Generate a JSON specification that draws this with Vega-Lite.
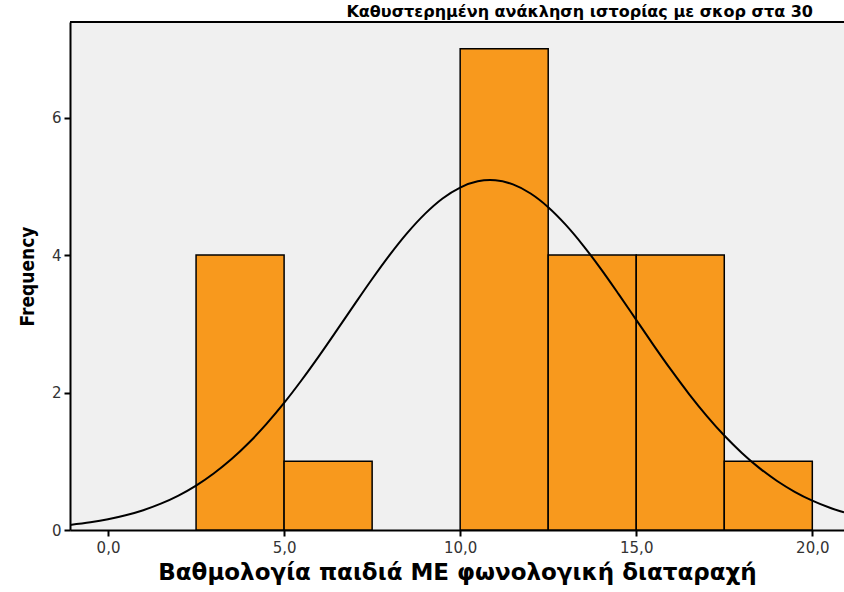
{
  "$schema": "https://vega.github.io/schema/vega-lite/v6.json",
  "autosize": "none",
  "width": 774,
  "height": 508,
  "padding": {"left": 70, "top": 22, "right": 0, "bottom": 62},
  "background": "white",
  "config": {
    "view": {"stroke": null, "fill": "#f0f0f0"},
    "font": "Liberation Sans"
  },
  "title": {
    "text": "Καθυστερημένη ανάκληση ιστορίας με σκορ στα 30",
    "anchor": "end",
    "dx": -32,
    "offset": 1,
    "fontSize": 16,
    "fontWeight": "bold",
    "font": "DejaVu Sans",
    "color": "black"
  },
  "datasets": {
    "bins": [
      {"start": 2.5, "end": 5, "count": 4},
      {"start": 5, "end": 7.5, "count": 1},
      {"start": 10, "end": 12.5, "count": 7},
      {"start": 12.5, "end": 15, "count": 4},
      {"start": 15, "end": 17.5, "count": 4},
      {"start": 17.5, "end": 20, "count": 1}
    ],
    "curve": [
      {"x": -1.08, "y": 0.074}, {"x": -0.5, "y": 0.112}, {"x": 0, "y": 0.156}, {"x": 0.5, "y": 0.214},
      {"x": 1, "y": 0.288}, {"x": 1.5, "y": 0.383}, {"x": 2, "y": 0.501}, {"x": 2.5, "y": 0.646},
      {"x": 3, "y": 0.822}, {"x": 3.5, "y": 1.028}, {"x": 4, "y": 1.269}, {"x": 4.5, "y": 1.543},
      {"x": 5, "y": 1.848}, {"x": 5.5, "y": 2.182}, {"x": 6, "y": 2.537}, {"x": 6.5, "y": 2.907},
      {"x": 7, "y": 3.282}, {"x": 7.5, "y": 3.651}, {"x": 8, "y": 4.002}, {"x": 8.5, "y": 4.322},
      {"x": 9, "y": 4.599}, {"x": 9.5, "y": 4.823}, {"x": 10, "y": 4.982}, {"x": 10.5, "y": 5.072},
      {"x": 10.85, "y": 5.09}, {"x": 11, "y": 5.087}, {"x": 11.5, "y": 5.027}, {"x": 12, "y": 4.895},
      {"x": 12.5, "y": 4.696}, {"x": 13, "y": 4.439}, {"x": 13.5, "y": 4.135}, {"x": 14, "y": 3.795},
      {"x": 14.5, "y": 3.431}, {"x": 15, "y": 3.057}, {"x": 15.5, "y": 2.683}, {"x": 16, "y": 2.321},
      {"x": 16.5, "y": 1.978}, {"x": 17, "y": 1.661}, {"x": 17.5, "y": 1.374}, {"x": 18, "y": 1.121},
      {"x": 18.5, "y": 0.900}, {"x": 19, "y": 0.713}, {"x": 19.5, "y": 0.556}, {"x": 20, "y": 0.427},
      {"x": 20.5, "y": 0.323}, {"x": 20.9, "y": 0.256}
    ]
  },
  "layer": [
    {
      "data": {"name": "bins"},
      "mark": {"type": "rect", "fill": "#f8991d", "stroke": "black", "strokeWidth": 1.5},
      "encoding": {
        "x": {
          "field": "start", "type": "quantitative",
          "scale": {"domain": [-1.08, 20.9], "nice": false, "zero": false},
          "axis": {
            "values": [0, 5, 10, 15, 20],
            "format": ".1f",
            "labelExpr": "replace(datum.label, '.', ',')",
            "title": "Βαθμολογία παιδιά ΜΕ φωνολογική διαταραχή",
            "titleFont": "DejaVu Sans",
            "titleFontSize": 23,
            "titleFontWeight": "bold",
            "titleColor": "black",
            "titlePadding": 6,
            "labelFont": "DejaVu Sans",
            "labelFontSize": 15,
            "labelColor": "#333333",
            "labelPadding": 4,
            "domainColor": "black",
            "domainWidth": 2,
            "tickColor": "black",
            "tickWidth": 2,
            "tickSize": 6,
            "grid": false
          }
        },
        "x2": {"field": "end"},
        "y": {
          "field": "count", "type": "quantitative",
          "scale": {"domain": [0, 7.39], "nice": false},
          "axis": {
            "values": [0, 2, 4, 6],
            "format": "d",
            "title": "Frequency",
            "titleFont": "'DejaVu Sans Condensed', 'Liberation Sans', sans-serif",
            "titleFontSize": 19,
            "titleFontWeight": "bold",
            "titleColor": "black",
            "titlePadding": 14,
            "labelFont": "DejaVu Sans",
            "labelFontSize": 15,
            "labelColor": "#333333",
            "labelPadding": 3,
            "domainColor": "black",
            "domainWidth": 2,
            "tickColor": "black",
            "tickWidth": 2,
            "tickSize": 6,
            "grid": false
          }
        },
        "y2": {"datum": 0}
      }
    },
    {
      "data": {"name": "curve"},
      "mark": {"type": "line", "color": "black", "strokeWidth": 2, "interpolate": "monotone", "clip": true},
      "encoding": {
        "x": {"field": "x", "type": "quantitative"},
        "y": {"field": "y", "type": "quantitative"}
      }
    },
    {
      "data": {"values": [{}]},
      "mark": {"type": "rule", "color": "black", "strokeWidth": 2},
      "encoding": {"y": {"datum": 7.39}}
    }
  ]
}
